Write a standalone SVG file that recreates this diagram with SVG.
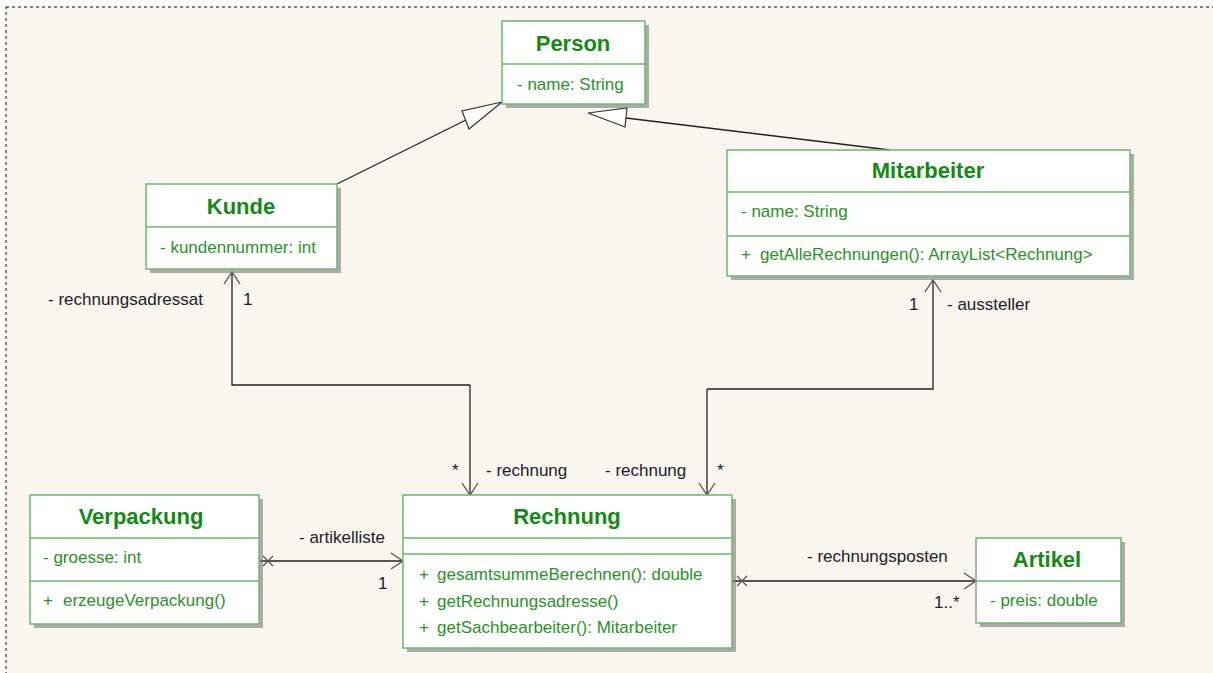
<svg xmlns="http://www.w3.org/2000/svg" width="1213" height="673" viewBox="0 0 1213 673">
  <defs>
    <style>
      .box { fill: #ffffff; stroke: #6cb86c; stroke-width: 1.5; }
      .shadow { fill: #7a7a7a; opacity: 0.6; }
      .div { stroke: #6cb86c; stroke-width: 1.5; }
      .title { font-family: "Liberation Sans", Arial, sans-serif; font-size: 22px; font-weight: bold; fill: #138a13; text-anchor: middle; }
      .member { font-family: "Liberation Sans", Arial, sans-serif; font-size: 17px; fill: #2a922a; }
      .label { font-family: "Liberation Sans", Arial, sans-serif; font-size: 17px; fill: #1c1c2c; }
      .line { fill: none; stroke: #222222; stroke-width: 1.3; }
      .tri { fill: #ffffff; stroke: #333333; stroke-width: 1.2; }
      .xmark { stroke: #555555; stroke-width: 1.2; }
    </style>
    <marker id="open" viewBox="0 0 20 20" refX="18" refY="10" markerWidth="20" markerHeight="20" markerUnits="userSpaceOnUse" orient="auto">
      <path d="M 6 2 L 18 10 L 6 18" fill="none" stroke="#555555" stroke-width="1.3"/>
    </marker>
  </defs>

  <!-- canvas -->
  <rect x="0" y="0" width="1213" height="673" fill="#ffffff"/>
  <rect x="6" y="7" width="1220" height="680" fill="#f8f6ef" stroke="#111111" stroke-width="1" stroke-dasharray="3,3"/>

  <!-- connectors -->
  <g id="connectors">
    <!-- generalisations -->
    <line class="line" x1="337" y1="184" x2="466" y2="120"/>
    <polygon class="tri" points="502,102 462,111 469,129"/>
    <line class="line" x1="890" y1="150" x2="626" y2="118"/>
    <polygon class="tri" points="588,113 627,108 625,127"/>

    <!-- Rechnung / Kunde -->
    <polyline class="line" points="470,385 232,385 232,272" marker-end="url(#open)"/>
    <line class="line" x1="470" y1="385" x2="470" y2="495" marker-end="url(#open)"/>
    <!-- Rechnung / Mitarbeiter -->
    <polyline class="line" points="707,389 933,389 933,280" marker-end="url(#open)"/>
    <line class="line" x1="707" y1="389" x2="707" y2="495" marker-end="url(#open)"/>

    <!-- Verpackung / Rechnung -->
    <line class="line" x1="260" y1="561" x2="403" y2="561" marker-end="url(#open)"/>
    <line class="xmark" x1="263" y1="556" x2="273" y2="566"/>
    <line class="xmark" x1="263" y1="566" x2="273" y2="556"/>

    <!-- Rechnung / Artikel -->
    <line class="line" x1="733" y1="581" x2="976" y2="581" marker-end="url(#open)"/>
    <line class="xmark" x1="737" y1="576" x2="747" y2="586"/>
    <line class="xmark" x1="737" y1="586" x2="747" y2="576"/>

    <!-- role names and multiplicities -->
    <text class="label" x="48" y="305">- rechnungsadressat</text>
    <text class="label" x="243" y="305">1</text>
    <text class="label" x="909" y="310">1</text>
    <text class="label" x="947" y="310">- aussteller</text>
    <text class="label" x="452" y="476">*</text>
    <text class="label" x="486" y="476">- rechnung</text>
    <text class="label" x="605" y="476">- rechnung</text>
    <text class="label" x="717" y="476">*</text>
    <text class="label" x="299" y="543">- artikelliste</text>
    <text class="label" x="378" y="589">1</text>
    <text class="label" x="807" y="562">- rechnungsposten</text>
    <text class="label" x="934" y="608">1..*</text>
  </g>

  <!-- Person -->
  <g id="person">
    <rect class="shadow" x="506" y="25" width="143" height="83"/>
    <rect class="box" x="502" y="21" width="143" height="83"/>
    <line class="div" x1="502" y1="64" x2="645" y2="64"/>
    <text class="title" x="573" y="51">Person</text>
    <text class="member" x="517" y="90">- name: String</text>
  </g>

  <!-- Kunde -->
  <g id="kunde">
    <rect class="shadow" x="150" y="188" width="191" height="85"/>
    <rect class="box" x="146" y="184" width="191" height="85"/>
    <line class="div" x1="146" y1="227" x2="337" y2="227"/>
    <text class="title" x="241" y="214">Kunde</text>
    <text class="member" x="160" y="253">- kundennummer: int</text>
  </g>

  <!-- Mitarbeiter -->
  <g id="mitarbeiter">
    <rect class="shadow" x="731" y="154" width="403" height="126"/>
    <rect class="box" x="727" y="150" width="403" height="126"/>
    <line class="div" x1="727" y1="192" x2="1130" y2="192"/>
    <line class="div" x1="727" y1="236" x2="1130" y2="236"/>
    <text class="title" x="928" y="178">Mitarbeiter</text>
    <text class="member" x="741" y="217">- name: String</text>
    <text class="member" x="741" y="260">+</text>
    <text class="member" x="760" y="260">getAlleRechnungen(): ArrayList&lt;Rechnung&gt;</text>
  </g>

  <!-- Verpackung -->
  <g id="verpackung">
    <rect class="shadow" x="34" y="499" width="229" height="129"/>
    <rect class="box" x="30" y="495" width="229" height="129"/>
    <line class="div" x1="30" y1="538" x2="259" y2="538"/>
    <line class="div" x1="30" y1="581" x2="259" y2="581"/>
    <text class="title" x="141" y="524">Verpackung</text>
    <text class="member" x="43" y="563">- groesse: int</text>
    <text class="member" x="43" y="606">+</text>
    <text class="member" x="63" y="606">erzeugeVerpackung()</text>
  </g>

  <!-- Rechnung -->
  <g id="rechnung">
    <rect class="shadow" x="407" y="499" width="329" height="153"/>
    <rect class="box" x="403" y="495" width="329" height="153"/>
    <line class="div" x1="403" y1="538" x2="732" y2="538"/>
    <line class="div" x1="403" y1="554" x2="732" y2="554"/>
    <text class="title" x="567" y="524">Rechnung</text>
    <text class="member" x="419" y="580">+</text>
    <text class="member" x="437" y="580">gesamtsummeBerechnen(): double</text>
    <text class="member" x="419" y="607">+</text>
    <text class="member" x="437" y="607">getRechnungsadresse()</text>
    <text class="member" x="419" y="633">+</text>
    <text class="member" x="437" y="633">getSachbearbeiter(): Mitarbeiter</text>
  </g>

  <!-- Artikel -->
  <g id="artikel">
    <rect class="shadow" x="980" y="542" width="145" height="85"/>
    <rect class="box" x="976" y="538" width="145" height="85"/>
    <line class="div" x1="976" y1="581" x2="1121" y2="581"/>
    <text class="title" x="1047" y="567">Artikel</text>
    <text class="member" x="990" y="606">- preis: double</text>
  </g>
</svg>
